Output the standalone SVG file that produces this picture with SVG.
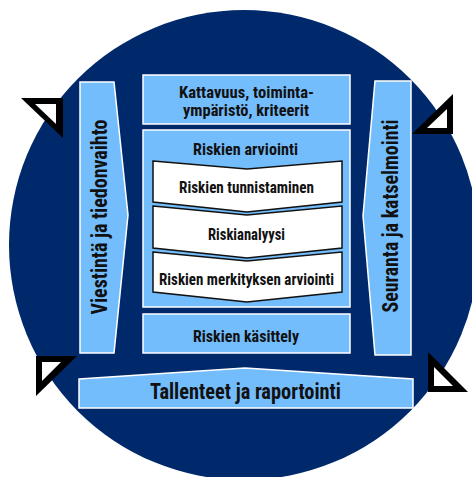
<svg xmlns="http://www.w3.org/2000/svg" width="472" height="477" viewBox="0 0 472 477">
<style>
.box{fill:#74BDFD;stroke:#FFFFFF;stroke-width:1.5}
.chev{fill:#FFFFFF;stroke:#111111;stroke-width:1.5;stroke-linejoin:miter}
.t{font-family:"Liberation Sans Narrow","Roboto Condensed","Liberation Sans",sans-serif;font-weight:bold;fill:#111111;text-anchor:middle}
.s{font-size:16.5px}
.l{font-size:21.5px}
.tri-o{fill:#000000}
.tri-i{fill:#FFFFFF}
</style>
<circle cx="244" cy="245" r="235" fill="#00296B"/>
<g id="triangles">
<polygon class="tri-o" points="21,98 63,98 63,138"/>
<polygon class="tri-i" points="35,104 56,104 56,124"/>
<polygon class="tri-o" points="453,94 453,134 412,134"/>
<polygon class="tri-i" points="447,109 447,128 427,128"/>
<polygon class="tri-o" points="36,356 77,356 36,396"/>
<polygon class="tri-i" points="42,362 61,362 42,381"/>
<polygon class="tri-o" points="428,352 428,392 468,392"/>
<polygon class="tri-i" points="434,367 434,386 453,386"/>
</g>
<g id="viestinta">
<polygon class="box" points="80,82 114,82 128,215 114,353 80,353"/>
<text class="t l" transform="translate(106.5,217) rotate(-90)" textLength="195" lengthAdjust="spacingAndGlyphs">Viestintä ja tiedonvaihto</text>
</g>
<g id="seuranta">
<polygon class="box" points="375,81 411,81 411,355 375,355 363,216"/>
<text class="t l" transform="translate(397.5,216) rotate(-90)" textLength="193" lengthAdjust="spacingAndGlyphs">Seuranta ja katselmointi</text>
</g>
<g id="kattavuus">
<rect class="box" x="143" y="75" width="207" height="49"/>
<text class="t s" x="246.5" y="97.5" textLength="135" lengthAdjust="spacingAndGlyphs">Kattavuus, toiminta-</text>
<text class="t s" x="246" y="115.5" textLength="126" lengthAdjust="spacingAndGlyphs">ympäristö, kriteerit</text>
</g>
<g id="arviointi">
<rect class="box" x="143" y="130" width="207" height="177"/>
<text class="t s" x="245.5" y="154.5" textLength="105" lengthAdjust="spacingAndGlyphs">Riskien arviointi</text>
</g>
<g id="tunnistaminen">
<polygon class="chev" points="153,161 247,169 342,161 342,202 247,212 153,202"/>
<text class="t s" x="246.5" y="193" textLength="135" lengthAdjust="spacingAndGlyphs">Riskien tunnistaminen</text>
</g>
<g id="analyysi">
<polygon class="chev" points="153,206 247,215 342,206 342,248 247,258 153,248"/>
<text class="t s" x="246.5" y="239.5" textLength="77" lengthAdjust="spacingAndGlyphs">Riskianalyysi</text>
</g>
<g id="merkitys">
<polygon class="chev" points="153,252 247,261 342,252 342,292 247,302 153,292"/>
<text class="t s" x="246.5" y="284.5" textLength="175" lengthAdjust="spacingAndGlyphs">Riskien merkityksen arviointi</text>
</g>
<g id="kasittely">
<rect class="box" x="143" y="314" width="207" height="39"/>
<text class="t s" x="246" y="342" textLength="106" lengthAdjust="spacingAndGlyphs">Riskien käsittely</text>
</g>
<g id="tallenteet">
<polygon class="box" points="79,379 245,368 413,379 413,408 79,408"/>
<text class="t l" x="245.5" y="398.5" textLength="191" lengthAdjust="spacingAndGlyphs">Tallenteet ja raportointi</text>
</g>
<g id="connectors"></g>
</svg>
